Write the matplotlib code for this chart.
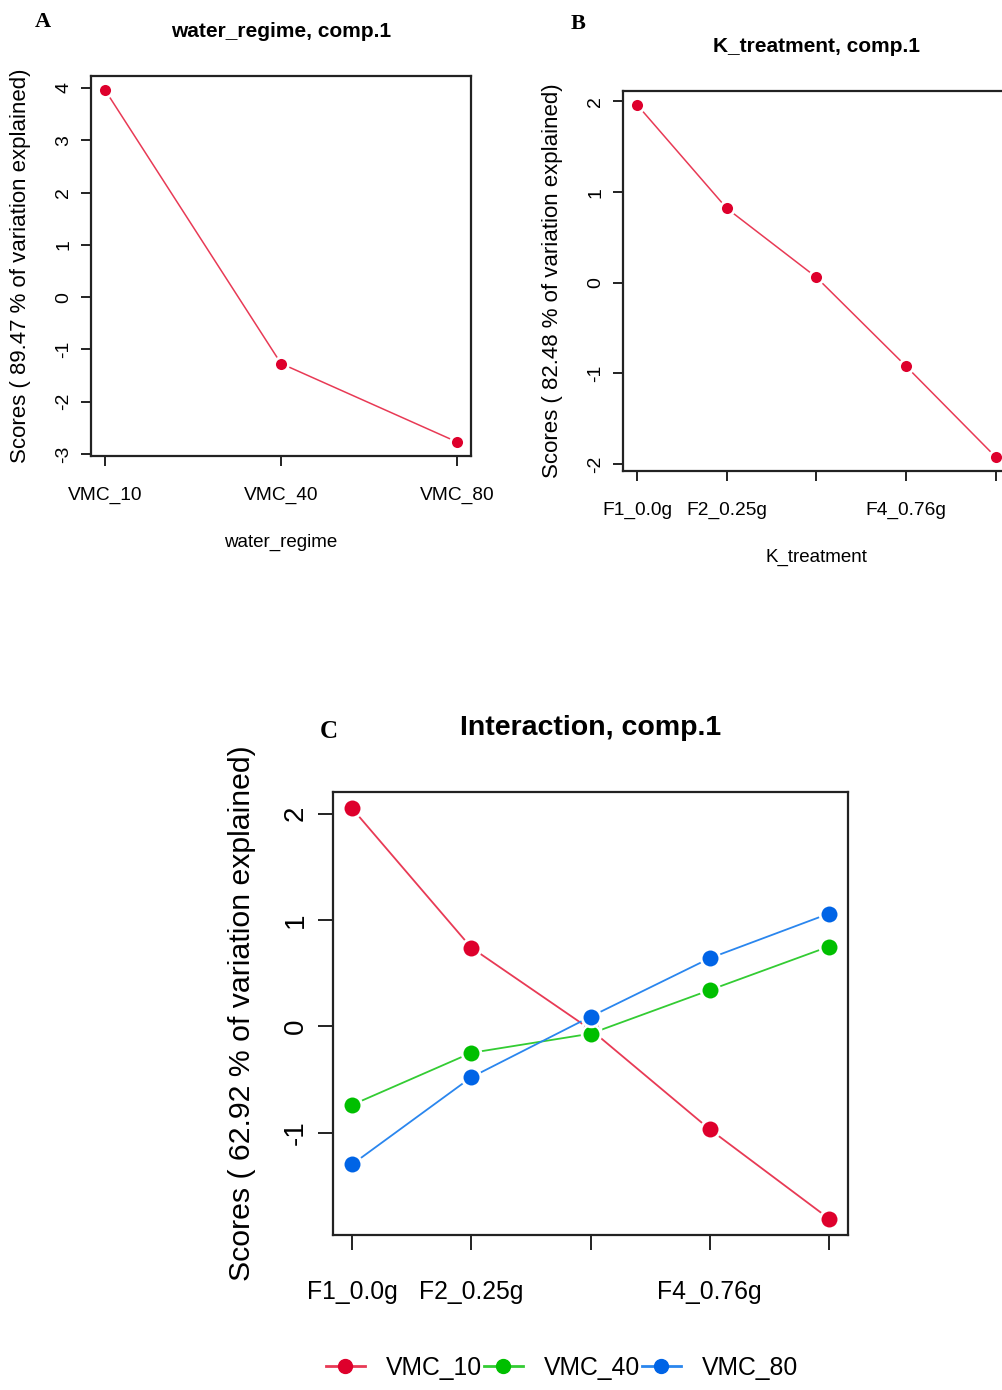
import matplotlib
matplotlib.use("Agg")
import matplotlib.pyplot as plt
from matplotlib.lines import Line2D

# panel A: water regime scores
water_levels = ["VMC_10", "VMC_40", "VMC_80"]
water_scores = [3.96, -1.27, -2.77]

# panel B: K treatment scores
k_levels = ["F1_0.0g", "F2_0.25g", "", "F4_0.76g", ""]
k_scores = [1.96, 0.82, 0.06, -0.92, -1.92]

# panel C: interaction scores, one series per water regime
vmc10_scores = [2.05, 0.74, -0.03, -0.97, -1.81]
vmc40_scores = [-0.74, -0.25, -0.07, 0.34, 0.75]
vmc80_scores = [-1.30, -0.48, 0.09, 0.64, 1.06]
series_names = ["VMC_10", "VMC_40", "VMC_80"]

dot_colors = ["#DE002C", "#00BF00", "#0064E6"]
line_colors = ["#E83A55", "#33CC33", "#2A86EE"]

W, H = 1003, 1390
fig = plt.figure(figsize=(W / 100, H / 100), dpi=100)

SANS = ["Liberation Sans", "DejaVu Sans"]
SERIF = ["Liberation Serif", "DejaVu Serif"]


def px_axes(left, top, right, bottom):
    return fig.add_axes([left / W, 1 - bottom / H, (right - left) / W, (bottom - top) / H])


def style_axes(ax, xticklabels, yticks, xsize, ysize, ypad, xpad, ticklen):
    for s in ax.spines.values():
        s.set_linewidth(1.6)
        s.set_color("#222222")
    ax.tick_params(axis="both", direction="out", length=ticklen, width=1.4, color="#222222")
    ax.tick_params(axis="y", pad=ypad)
    ax.tick_params(axis="x", pad=xpad)
    ax.set_xticks(range(1, len(xticklabels) + 1))
    ax.set_xticklabels(xticklabels, fontfamily=SANS, fontsize=xsize)
    ax.set_yticks(yticks)
    ax.set_yticklabels([str(v) for v in yticks], rotation=90, va="center",
                       fontfamily=SANS, fontsize=ysize)


def draw_series(ax, y, i, ms, lw):
    x = list(range(1, len(y) + 1))
    ax.plot(x, y, color=line_colors[i], lw=lw, zorder=2)
    ax.plot(x, y, ls="none", marker="o", ms=ms, mfc=dot_colors[i],
            mec="white", mew=2.0, zorder=3)


def set_lims(ax, n, values):
    lo, hi = min(values), max(values)
    pad = (hi - lo) * 0.04
    ax.set_ylim(lo - pad, hi + pad)
    ax.set_xlim(1 - (n - 1) * 0.04, n + (n - 1) * 0.04)


# ---- A ----
axA = px_axes(91, 76, 471, 456)
draw_series(axA, water_scores, 0, 10, 1.1)
set_lims(axA, 3, water_scores)
style_axes(axA, water_levels, [-3, -2, -1, 0, 1, 2, 3, 4], 13.8, 14, 6, 15, 7.5)
axA.set_xlabel("water_regime", fontfamily=SANS, fontsize=13.5)
axA.xaxis.set_label_coords(0.5, -0.205)
axA.set_ylabel("Scores ( 89.47 % of variation explained)", fontfamily=SANS, fontsize=16)
axA.yaxis.set_label_coords(-0.158, 0.5)
axA.set_title("water_regime, comp.1", fontfamily=SANS, fontweight="bold",
              fontsize=15, pad=28)

# ---- B ----
axB = px_axes(623, 91, 1010, 471)
draw_series(axB, k_scores, 0, 10, 1.1)
set_lims(axB, 5, k_scores)
style_axes(axB, k_levels, [-2, -1, 0, 1, 2], 13.8, 14, 6, 15, 7.5)
axB.set_xlabel("K_treatment", fontfamily=SANS, fontsize=13.5)
axB.xaxis.set_label_coords(0.5, -0.205)
axB.set_ylabel("Scores ( 82.48 % of variation explained)", fontfamily=SANS, fontsize=16)
axB.yaxis.set_label_coords(-0.155, 0.5)
axB.set_title("K_treatment, comp.1", fontfamily=SANS, fontweight="bold",
              fontsize=15, pad=28)

# ---- C ----
axC = px_axes(333, 792, 848, 1235)
all_c = [vmc10_scores, vmc40_scores, vmc80_scores]
for i, ys in enumerate(all_c):
    draw_series(axC, ys, i, 13.5, 1.3)
set_lims(axC, 5, [v for ys in all_c for v in ys])
style_axes(axC, k_levels, [-1, 0, 1, 2], 17.8, 20, 7, 22, 10.5)
axC.set_ylabel("Scores ( 62.92 % of variation explained)", fontfamily=SANS, fontsize=21.8)
axC.yaxis.set_label_coords(-0.150, 0.5)
axC.set_title("Interaction, comp.1", fontfamily=SANS, fontweight="bold",
              fontsize=20.5, pad=41)

handles = [Line2D([], [], color=line_colors[i], lw=2, marker="o", ms=10,
                  mfc=dot_colors[i], mec=dot_colors[i]) for i in range(3)]
fig.legend(handles, series_names, loc="center", bbox_to_anchor=(562 / W, 1 - 1368 / H),
           ncol=3, frameon=False, prop={"family": SANS, "size": 17.8},
           handlelength=1.6, handletextpad=0.85, columnspacing=0.05)

# panel letters
fig.text(43 / W, 1 - 22 / H, "A", fontfamily=SERIF, fontweight="bold", fontsize=16,
         ha="center", va="center")
fig.text(578 / W, 1 - 24 / H, "B", fontfamily=SERIF, fontweight="bold", fontsize=16,
         ha="center", va="center")
fig.text(329 / W, 1 - 731 / H, "C", fontfamily=SERIF, fontweight="bold", fontsize=18,
         ha="center", va="center")

fig.savefig("out.png", dpi=100)
